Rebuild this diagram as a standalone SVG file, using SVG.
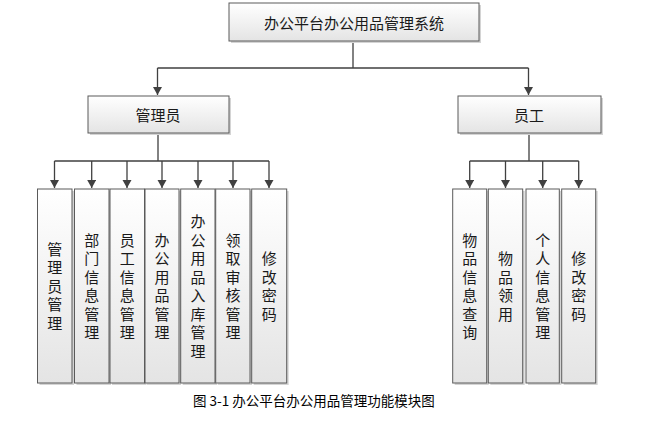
<svg xmlns="http://www.w3.org/2000/svg" width="650" height="430" viewBox="0 0 650 430">
<style>
.box{fill:url(#g);stroke:#5a5a5a;stroke-width:1}
.sh{fill:#d4d4d4}
.t{font-family:"Noto Sans CJK SC","Liberation Sans",sans-serif;font-size:15px;fill:#1a1a1a;text-anchor:middle;dominant-baseline:central}
.v{font-family:"Noto Sans CJK SC","Liberation Sans",sans-serif;font-size:15px;fill:#1a1a1a;writing-mode:vertical-rl;text-orientation:upright;text-anchor:middle;letter-spacing:3.5px}
.c{stroke:#404040;stroke-width:1.3;fill:none}
.a{marker-end:url(#ar)}
.cap{font-family:"Noto Sans CJK SC","Liberation Sans",sans-serif;font-size:13.5px;fill:#000}
</style>
<defs>
<linearGradient id="g" x1="0" y1="0" x2="0" y2="1">
<stop offset="0" stop-color="#ffffff"/>
<stop offset="1" stop-color="#e4e4e4"/>
</linearGradient>
<marker id="ar" markerWidth="10" markerHeight="10" refX="8" refY="4.5" orient="auto" markerUnits="userSpaceOnUse">
<path d="M0,0 L8,4.5 L0,9 Z" fill="#404040"/>
</marker>
</defs>
<rect width="650" height="430" fill="#ffffff"/>
<g id="connectors">
<path class="c" d="M353,41 V68 M157.5,68 H528.5"/>
<path class="c a" d="M157.5,68 V95"/>
<path class="c a" d="M528.5,68 V95"/>
<path class="c" d="M158,133 V161 M54.5,161 H269"/>
<path class="c a" d="M54.5,161 V188"/>
<path class="c a" d="M91.7,161 V188"/>
<path class="c a" d="M127,161 V188"/>
<path class="c a" d="M162,161 V188"/>
<path class="c a" d="M198,161 V188"/>
<path class="c a" d="M233,161 V188"/>
<path class="c a" d="M269,161 V188"/>
<path class="c" d="M529,133 V161 M469.7,161 H578.7"/>
<path class="c a" d="M469.7,161 V188"/>
<path class="c a" d="M505.5,161 V188"/>
<path class="c a" d="M542.7,161 V188"/>
<path class="c a" d="M578.7,161 V188"/>
</g>
<g id="root">
<rect class="sh" x="231" y="5" width="250" height="38"/>
<rect class="box" x="229" y="3" width="250" height="38"/>
<text class="t" x="354" y="22">办公平台办公用品管理系统</text>
</g>
<g id="admin">
<rect class="sh" x="90" y="98" width="141" height="37"/>
<rect class="box" x="88" y="96" width="141" height="37"/>
<text class="t" x="158" y="114">管理员</text>
</g>
<g id="staff">
<rect class="sh" x="460" y="98" width="143" height="37"/>
<rect class="box" x="458" y="96" width="143" height="37"/>
<text class="t" x="529" y="114">员工</text>
</g>
<g id="a1">
<rect class="sh" x="39.5" y="191" width="34.5" height="194"/>
<rect class="box" x="37.5" y="189" width="34.5" height="194"/>
<text class="v" x="54.7" y="288">管理员管理</text>
</g>
<g id="a2">
<rect class="sh" x="76.5" y="191" width="34.5" height="194"/>
<rect class="box" x="74.5" y="189" width="34.5" height="194"/>
<text class="v" x="91.7" y="288">部门信息管理</text>
</g>
<g id="a3">
<rect class="sh" x="112" y="191" width="34.5" height="194"/>
<rect class="box" x="110" y="189" width="34.5" height="194"/>
<text class="v" x="127.2" y="288">员工信息管理</text>
</g>
<g id="a4">
<rect class="sh" x="147" y="191" width="34" height="194"/>
<rect class="box" x="145" y="189" width="34" height="194"/>
<text class="v" x="162" y="288">办公用品管理</text>
</g>
<g id="a5">
<rect class="sh" x="182.7" y="191" width="34.3" height="194"/>
<rect class="box" x="180.7" y="189" width="34.3" height="194"/>
<text class="v" x="197.9" y="288">办公用品入库管理</text>
</g>
<g id="a6">
<rect class="sh" x="217.7" y="191" width="34.3" height="194"/>
<rect class="box" x="215.7" y="189" width="34.3" height="194"/>
<text class="v" x="232.9" y="288">领取审核管理</text>
</g>
<g id="a7">
<rect class="sh" x="253.7" y="191" width="35" height="194"/>
<rect class="box" x="251.7" y="189" width="35" height="194"/>
<text class="v" x="269.2" y="288">修改密码</text>
</g>
<g id="s1">
<rect class="sh" x="454.7" y="191" width="34" height="194"/>
<rect class="box" x="452.7" y="189" width="34" height="194"/>
<text class="v" x="469.7" y="288">物品信息查询</text>
</g>
<g id="s2">
<rect class="sh" x="490.3" y="191" width="34.4" height="194"/>
<rect class="box" x="488.3" y="189" width="34.4" height="194"/>
<text class="v" x="505.5" y="288">物品领用</text>
</g>
<g id="s3">
<rect class="sh" x="528" y="191" width="33.3" height="194"/>
<rect class="box" x="526" y="189" width="33.3" height="194"/>
<text class="v" x="542.7" y="288">个人信息管理</text>
</g>
<g id="s4">
<rect class="sh" x="563.7" y="191" width="34" height="194"/>
<rect class="box" x="561.7" y="189" width="34" height="194"/>
<text class="v" x="578.7" y="288">修改密码</text>
</g>
<text class="cap" x="193" y="406">图 3-1 办公平台办公用品管理功能模块图</text>
</svg>
